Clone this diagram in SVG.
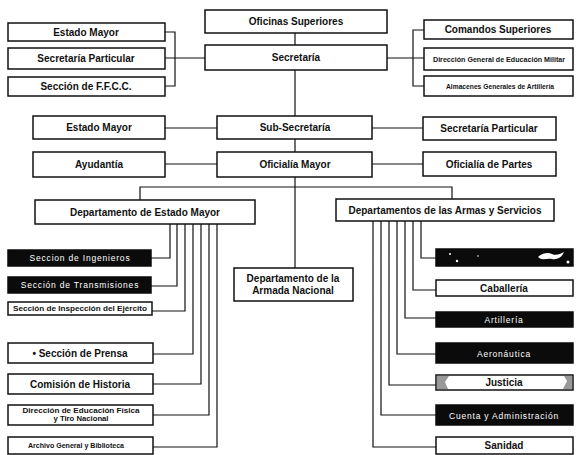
<svg xmlns="http://www.w3.org/2000/svg" width="579" height="455" viewBox="0 0 579 455">
<style>
.b{fill:#fff;stroke:#111;stroke-width:1.5}
.k{fill:#0b0b0b;stroke:#0b0b0b;stroke-width:1.5}
.t{font-family:"Liberation Sans",Arial,sans-serif;font-weight:bold;font-size:10px;fill:#111;text-anchor:middle}
.s{font-family:"Liberation Sans",Arial,sans-serif;font-weight:bold;font-size:7px;fill:#111;text-anchor:middle}
.w{font-family:"Liberation Sans",Arial,sans-serif;font-size:8.5px;fill:#fff;text-anchor:middle;letter-spacing:0.8px}
.c{fill:none;stroke:#111;stroke-width:1.2}
</style>
<rect width="579" height="455" fill="#fff"/>
<g id="connectors">
<path class="c" d="M295 33V45M295 70V116M295 139V152M295 177V268"/>
<path class="c" d="M165 32H175V86H165M165 58H205"/>
<path class="c" d="M424 30H413V86H424M387 58H424"/>
<path class="c" d="M165 128H217M165 164H217M372 128H423M372 164H423"/>
<path class="c" d="M140 200V187H452V199"/>
<path class="c" d="M170 224V258H151M177 224V286H151M185 224V311H152M193 224V354H153M201 224V384H153M209 224V415H153M217 224V447H153"/>
<path class="c" d="M421 221V258H436M413 221V290H436M405 221V318H436M397 221V354H436M389 221V385H436M381 221V415H436M373 221V447H436"/>
</g>
<g id="oficinas"><rect class="b" x="205" y="10" width="182" height="23"/><text class="t" x="296" y="25">Oficinas Superiores</text></g>
<g id="secretaria"><rect class="b" x="205" y="45" width="182" height="25"/><text class="t" x="296" y="61">Secretaría</text></g>
<g id="estado-mayor-1"><rect class="b" x="8" y="23" width="157" height="18"/><text class="t" x="86" y="35.5">Estado Mayor</text></g>
<g id="secretaria-particular-1"><rect class="b" x="8" y="48" width="157" height="21"/><text class="t" x="86" y="62">Secretaría Particular</text></g>
<g id="seccion-ffcc"><rect class="b" x="8" y="77" width="157" height="19"/><text class="t" x="86" y="90">Sección de F.F.C.C.</text></g>
<g id="comandos"><rect class="b" x="424" y="20" width="149" height="19"/><text class="t" x="498" y="33">Comandos Superiores</text></g>
<g id="direccion-educacion-militar"><rect class="b" x="424" y="48" width="149" height="22"/><text class="s" x="499" y="62" textLength="132" lengthAdjust="spacingAndGlyphs">Dirección General de Educación Militar</text></g>
<g id="almacenes"><rect class="b" x="424" y="76" width="149" height="20"/><text class="s" x="500" y="89" textLength="108" lengthAdjust="spacingAndGlyphs">Almacenes Generales de Artillería</text></g>
<g id="estado-mayor-2"><rect class="b" x="33" y="116" width="132" height="23"/><text class="t" x="99" y="131">Estado Mayor</text></g>
<g id="sub-secretaria"><rect class="b" x="217" y="116" width="155" height="23"/><text class="t" x="295" y="131">Sub-Secretaría</text></g>
<g id="secretaria-particular-2"><rect class="b" x="423" y="117" width="133" height="23"/><text class="t" x="489" y="132">Secretaría Particular</text></g>
<g id="ayudantia"><rect class="b" x="33" y="152" width="132" height="25"/><text class="t" x="99" y="168">Ayudantía</text></g>
<g id="oficialia-mayor"><rect class="b" x="217" y="152" width="155" height="25"/><text class="t" x="295" y="168">Oficialía Mayor</text></g>
<g id="oficialia-partes"><rect class="b" x="423" y="152" width="133" height="24"/><text class="t" x="489" y="168">Oficialía de Partes</text></g>
<g id="dept-estado-mayor"><rect class="b" x="35" y="200" width="220" height="24"/><text class="t" x="145" y="216">Departamento de Estado Mayor</text></g>
<g id="dept-armas"><rect class="b" x="336" y="199" width="218" height="22"/><text class="t" x="445" y="214">Departamentos de las Armas y Servicios</text></g>
<g id="dept-armada"><rect class="b" x="234" y="268" width="119" height="33"/><text class="t" x="293" y="282">Departamento de la</text><text class="t" x="293" y="294">Armada Nacional</text></g>
<g id="ingenieros"><rect class="k" x="8" y="250" width="143" height="16"/><text class="w" x="80" y="261">Seccion de Ingenieros</text></g>
<g id="transmisiones"><rect class="k" x="8" y="277" width="143" height="16"/><text class="w" x="80" y="288">Sección de Transmisiones</text></g>
<g id="inspeccion"><rect class="b" x="8" y="302" width="144" height="13"/><text class="s" x="80" y="311" textLength="134" lengthAdjust="spacingAndGlyphs">Sección de Inspección del Ejército</text></g>
<g id="prensa"><rect class="b" x="8" y="343" width="145" height="20"/><text class="t" x="80" y="357">• Sección de Prensa</text></g>
<g id="historia"><rect class="b" x="8" y="374" width="145" height="20"/><text class="t" x="80" y="388">Comisión de Historia</text></g>
<g id="educacion-fisica"><rect class="b" x="8" y="405" width="145" height="20"/><text class="s" x="81" y="413" textLength="117" lengthAdjust="spacingAndGlyphs">Dirección de Educación Física</text><text class="s" x="81" y="421" textLength="55" lengthAdjust="spacingAndGlyphs">y Tiro Nacional</text></g>
<g id="archivo"><rect class="b" x="8" y="437" width="145" height="17"/><text class="s" x="76" y="448" textLength="96" lengthAdjust="spacingAndGlyphs">Archivo General y Biblioteca</text></g>
<g id="servicio-1"><rect class="k" x="436" y="249" width="137" height="17"/><circle cx="450" cy="254" r="1" fill="#fff"/><circle cx="457" cy="261" r="1.2" fill="#fff"/><circle cx="478" cy="256" r="0.8" fill="#fff"/><path d="M538 257c4-4 10-5 14-3s8 0 12-2c-2 5-6 8-12 7s-10 2-14-2z" fill="#fff"/><circle cx="568" cy="262" r="1.5" fill="#fff"/></g>
<g id="caballeria"><rect class="b" x="436" y="280" width="137" height="16"/><text class="t" x="504" y="292">Caballería</text></g>
<g id="artilleria"><rect class="k" x="436" y="312" width="137" height="15"/><text class="w" x="504" y="323">Artillería</text></g>
<g id="aeronautica"><rect class="k" x="436" y="343" width="137" height="20"/><text class="w" x="504" y="357">Aeronáutica</text></g>
<g id="justicia"><rect class="b" x="436" y="375" width="137" height="15"/><path d="M437 376h12l-4 6 3 7h-11z" fill="#999"/><path d="M572 376h-8l3 5-4 8h9z" fill="#999"/><text class="t" x="504" y="386">Justicia</text></g>
<g id="cuenta"><rect class="k" x="436" y="405" width="137" height="20"/><text class="w" x="504" y="419">Cuenta y Administración</text></g>
<g id="sanidad"><rect class="b" x="436" y="437" width="137" height="17"/><text class="t" x="504" y="449">Sanidad</text></g>
</svg>
